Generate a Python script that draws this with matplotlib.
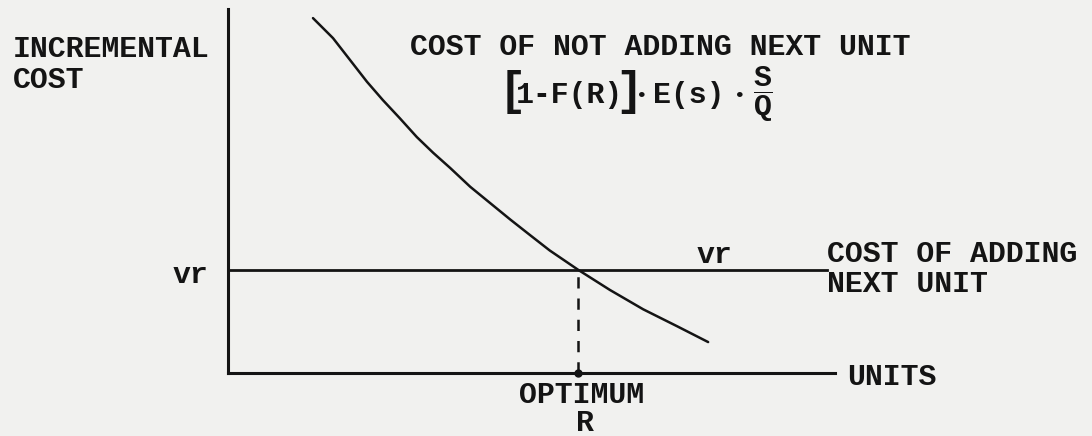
import numpy as np
import matplotlib
matplotlib.use('Agg')
import matplotlib.pyplot as plt

plt.rcParams['font.family'] = ['Liberation Mono', 'DejaVu Sans Mono']
plt.rcParams['font.weight'] = 'bold'
plt.rcParams['mathtext.fontset'] = 'custom'
plt.rcParams['mathtext.rm'] = 'Liberation Mono:bold'
plt.rcParams['mathtext.it'] = 'Liberation Mono:bold'
plt.rcParams['mathtext.bf'] = 'Liberation Mono:bold'

# curve: cost of not adding next unit
curve_x = [1.40, 1.73, 2.01, 2.29, 2.55, 2.83, 3.11, 3.38, 3.66, 3.99,
           4.32, 4.65, 4.98, 5.30, 5.77, 6.29, 6.84, 7.40, 7.91]
curve_y = [5.85, 5.52, 5.16, 4.80, 4.50, 4.20, 3.89, 3.63, 3.38, 3.07,
           2.80, 2.53, 2.27, 2.02, 1.70, 1.37, 1.05, 0.77, 0.51]

vr_level = 1.70      # cost of adding next unit
vr_end = 9.87
optimum_r = 5.77

ink = '#141414'
bg = '#f1f1ef'
fs = 21.5

fig = plt.figure(figsize=(10.92, 4.36), dpi=100, facecolor=bg)
ax = fig.add_axes([228/1092, 63/436, 607/1092, 364/436])
ax.set_facecolor(bg)
ax.set_xlim(0, 10)
ax.set_ylim(0, 6)
for s in ['top', 'right']:
    ax.spines[s].set_visible(False)
for s in ['left', 'bottom']:
    ax.spines[s].set_linewidth(2.2)
    ax.spines[s].set_color(ink)
ax.set_xticks([])
ax.set_yticks([])

# curves
ax.plot(curve_x, curve_y, color=ink, lw=1.8, solid_capstyle='round',
        solid_joinstyle='round', clip_on=False)
ax.plot([0, vr_end], [vr_level, vr_level], color=ink, lw=2.0, clip_on=False)
ax.plot([optimum_r, optimum_r], [0, vr_level], color=ink, lw=1.8,
        linestyle=(0, (4.5, 4)), clip_on=False)
ax.plot([optimum_r], [0], 'o', color=ink, ms=5, clip_on=False)

# labels
kw = dict(fontsize=fs, color=ink, fontweight='bold', clip_on=False)
ax.text(-3.54, 5.21, 'INCREMENTAL', ha='left', va='baseline', **kw)
ax.text(-3.54, 4.70, 'COST', ha='left', va='baseline', **kw)
ax.text(3.00, 5.24, 'COST OF NOT ADDING NEXT UNIT', ha='left', va='baseline', **kw)

# formula [1-F(R)] . E(s) . S/Q
ax.text(4.68, 4.64, '[', ha='center', va='center', fontsize=33, color=ink,
        fontweight='bold', clip_on=False)
ax.text(4.74, 4.45, '1-F(R)', ha='left', va='baseline', **kw)
ax.text(6.60, 4.64, ']', ha='center', va='center', fontsize=33, color=ink,
        fontweight='bold', clip_on=False)
ax.text(6.82, 4.55, '•', ha='center', va='center', fontsize=14, color=ink,
        clip_on=False)
ax.text(7.00, 4.45, 'E(s)', ha='left', va='baseline', **kw)
ax.text(8.43, 4.55, '•', ha='center', va='center', fontsize=14, color=ink,
        clip_on=False)
ax.text(8.81, 4.59, r'$\dfrac{S}{Q}$', ha='center', va='center', **kw)

ax.text(-0.33, 1.48, 'vr', ha='right', va='baseline', **kw)
ax.text(8.02, 1.81, 'vr', ha='center', va='baseline', **kw)
ax.text(9.87, 1.83, 'COST OF ADDING', ha='left', va='baseline', **kw)
ax.text(9.87, 1.34, 'NEXT UNIT', ha='left', va='baseline', **kw)
ax.text(10.20, -0.20, 'UNITS', ha='left', va='baseline', **kw)
ax.text(5.83, -0.49, 'OPTIMUM', ha='center', va='baseline', **kw)
ax.text(5.88, -0.95, 'R', ha='center', va='baseline', **kw)

plt.savefig('out.png', dpi=100, facecolor=bg)
